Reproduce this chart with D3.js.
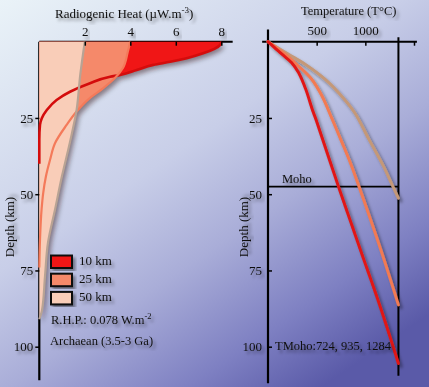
<!DOCTYPE html>
<html><head><meta charset="utf-8">
<script src="https://cdn.jsdelivr.net/npm/d3@7"></script>
<style>
html,body{margin:0;padding:0;overflow:hidden;background:#fff;}
svg{display:block;}
text{font-family:"Liberation Serif","Times New Roman",serif;fill:#111;}
</style>
</head><body>
<svg id="c" width="429" height="387"></svg>
<script>
// ---------- data ----------
const heatTicks = [2, 4, 6, 8];
const tempTicks = [500, 1000, 1500];
const tempTickLabels = ["500", "1000", ""];
const depthTicks = [25, 50, 75, 100];
const seriesNames = ["10 km", "25 km", "50 km"];

// Radiogenic heat profiles (depth km, heat µW/m3)
const heat10Depth = [0, 1.1, 3.8, 5.4, 6.6, 7.6, 9.3, 10.9, 11.5, 13.6, 16.4, 19.1, 22.4, 25.1, 27.3, 32, 40];
const heat10Value = [8.0, 7.94, 7.2, 6.48, 5.75, 5.01, 4.28, 3.55, 3.11, 2.23, 1.35, 0.76, 0.33, 0.11, 0.03, 0.0, 0.0];
const heat25Depth = [0, 3.3, 8.7, 12, 15.3, 18.5, 22.9, 27.3, 33.3, 38.8, 44.2, 49.7, 55, 65, 74];
const heat25Value = [4.0, 3.89, 3.67, 3.31, 2.8, 2.22, 1.64, 1.2, 0.69, 0.47, 0.29, 0.17, 0.1, 0.03, 0.0];
const heat50Depth = [0, 10.9, 22.4, 33.2, 44.3, 55.1, 66, 77, 88, 91];
const heat50Value = [2.0, 1.8, 1.64, 1.34, 0.99, 0.69, 0.38, 0.25, 0.12, 0.0];

// Geotherms (depth km, temperature °C)
const geo10Depth = [0, 4.1, 6.9, 10.2, 15.6, 22.2, 25.7, 47.5, 68.3, 86.9, 105.5];
const geo10Temp  = [0, 143, 243, 315, 388, 455, 495, 724, 950, 1153, 1340];
const geo25Depth = [0, 4.1, 8, 12.3, 17.8, 25, 33, 40, 47.5, 68.3, 86.3];
const geo25Temp  = [0, 177, 313, 449, 555, 654, 760, 850, 935, 1160, 1340];
const geo50Depth = [0, 4.1, 7.4, 12.3, 17.8, 23.3, 32.2, 40.4, 47.5, 51.3];
const geo50Temp  = [0, 211, 381, 585, 755, 891, 1040, 1180, 1284, 1340];

const mohoDepth = 47.5;
const mantleT = 1340;
const rhpText = "R.H.P.: 0.078 W.m";
const ageText = "Archaean (3.5-3 Ga)";
const tmohoText = "TMoho:724, 935, 1284";

// ---------- styles ----------
const fillColors = ["#f01212", "#f5896b", "#f9cdb8"];
const heatLine = ["#d40c0c", "#f47a5a", "#b8a394"];
const geoLine = ["#e01818", "#f27a52", "#c49878"];

// ---------- setup ----------
const svg = d3.select("#c");
const defs = svg.append("defs");
const bg = defs.append("linearGradient").attr("id", "bg")
  .attr("x1", 0).attr("y1", 0).attr("x2", 0.75).attr("y2", 1);
[[0, "#eaf3f8"], [0.45, "#c8cee8"], [0.65, "#a9add8"], [0.85, "#7e80c2"], [1, "#5a5aa8"]]
  .forEach(([o, c]) => bg.append("stop").attr("offset", o).attr("stop-color", c));
const sh = defs.append("filter").attr("id", "sh").attr("x", "-20%").attr("y", "-20%").attr("width", "140%").attr("height", "140%");
sh.append("feDropShadow").attr("dx", 2.5).attr("dy", 3).attr("stdDeviation", 1.8)
  .attr("flood-color", "#000").attr("flood-opacity", 0.4);
const sh2 = defs.append("filter").attr("id", "sh2").attr("x", "-20%").attr("y", "-20%").attr("width", "140%").attr("height", "140%");
sh2.append("feDropShadow").attr("dx", 3).attr("dy", 4).attr("stdDeviation", 2.5)
  .attr("flood-color", "#200000").attr("flood-opacity", 0.45);

svg.append("rect").attr("width", 429).attr("height", 387).attr("fill", "url(#bg)");

const yD = d3.scaleLinear().domain([0, 100]).range([41.7, 346.7]);
const xL = d3.scaleLinear().domain([0, 8]).range([39.3, 221.3]);
const xR = d3.scaleLinear().domain([0, 1500]).range([268, 414]);

// ---------- left panel: radiogenic heat ----------
const heatSeries = [
  heat10Depth.map((d, i) => ({d, v: heat10Value[i]})),
  heat25Depth.map((d, i) => ({d, v: heat25Value[i]})),
  heat50Depth.map((d, i) => ({d, v: heat50Value[i]}))
];
const area = d3.area().curve(d3.curveMonotoneY)
  .y(p => yD(p.d)).x0(xL(0)).x1(p => xL(p.v));
const lineH = d3.line().curve(d3.curveMonotoneY)
  .y(p => yD(p.d)).x(p => xL(p.v));

const gL = svg.append("g");
gL.append("line").attr("x1", xL(0)).attr("x2", xL(8.5)).attr("y1", yD(0)).attr("y2", yD(0))
  .attr("stroke", "#000").attr("stroke-width", 2);
gL.append("line").attr("x1", xL(0)).attr("x2", xL(0)).attr("y1", yD(0)).attr("y2", yD(111))
  .attr("stroke", "#000").attr("stroke-width", 2.2);

const fills = gL.append("g").attr("filter", "url(#sh2)");
heatSeries.forEach((s, i) => {
  fills.append("path").attr("d", area(s)).attr("fill", fillColors[i]);
});
heatSeries.forEach((s, i) => {
  gL.append("path").attr("d", lineH(s)).attr("fill", "none")
    .attr("stroke", heatLine[i]).attr("stroke-width", i === 0 ? 2.6 : 2.2);
});

const axL = gL.append("g").attr("transform", `translate(0,${yD(0)})`)
  .call(d3.axisTop(xL).tickValues(heatTicks).tickSizeInner(-4).tickSizeOuter(0).tickPadding(6));
axL.select(".domain").remove();
axL.selectAll("line").attr("stroke", "#000").attr("stroke-width", 1.5);
axL.selectAll("text").attr("font-size", 13).attr("font-family", "Liberation Serif").attr("fill", "#111").attr("filter", "url(#sh)");

const ayL = gL.append("g").attr("transform", `translate(${xL(0)},0)`)
  .call(d3.axisLeft(yD).tickValues(depthTicks).tickSize(4).tickPadding(2));
ayL.select(".domain").remove();
ayL.selectAll("line").attr("stroke", "#000").attr("stroke-width", 1.5);
ayL.selectAll("text").attr("font-size", 13).attr("font-family", "Liberation Serif").attr("fill", "#111").attr("filter", "url(#sh)");

const t1 = svg.append("text").attr("x", 55).attr("y", 18).attr("font-size", 13).attr("filter", "url(#sh)");
t1.append("tspan").text("Radiogenic Heat (\u00b5W.m");
t1.append("tspan").attr("dy", -5).attr("font-size", 9).text("-3");
t1.append("tspan").attr("dy", 5).text(")");

svg.append("text").attr("transform", "translate(14,227) rotate(-90)").attr("text-anchor", "middle")
  .attr("font-size", 13).attr("filter", "url(#sh)").text("Depth (km)");

const lg = svg.append("g");
seriesNames.forEach((n, i) => {
  const y0 = 255.5 + i * 18.2;
  lg.append("rect").attr("x", 51).attr("y", y0).attr("width", 21).attr("height", 12.5)
    .attr("fill", fillColors[i]).attr("stroke", "#111").attr("stroke-width", 2).attr("filter", "url(#sh)");
  lg.append("text").attr("x", 79).attr("y", y0 + 9.5).attr("font-size", 13).attr("filter", "url(#sh)").text(n);
});
const t2 = svg.append("text").attr("x", 51).attr("y", 324).attr("font-size", 12.5).attr("filter", "url(#sh)");
t2.append("tspan").text(rhpText);
t2.append("tspan").attr("dy", -5).attr("font-size", 8.5).text("-2");
svg.append("text").attr("x", 50).attr("y", 344.5).attr("font-size", 12.5).attr("filter", "url(#sh)").text(ageText);

// ---------- right panel: geotherms ----------
const geoSeries = [
  geo10Depth.map((d, i) => ({d, t: geo10Temp[i]})),
  geo25Depth.map((d, i) => ({d, t: geo25Temp[i]})),
  geo50Depth.map((d, i) => ({d, t: geo50Temp[i]}))
];
const lineG = d3.line().curve(d3.curveCatmullRom.alpha(0.5)).y(p => yD(p.d)).x(p => xR(p.t));
const gR = svg.append("g");
gR.append("line").attr("x1", xR(-60)).attr("x2", xR(1530)).attr("y1", yD(0)).attr("y2", yD(0))
  .attr("stroke", "#000").attr("stroke-width", 2);
gR.append("line").attr("x1", xR(0)).attr("x2", xR(0)).attr("y1", yD(-4)).attr("y2", yD(112))
  .attr("stroke", "#000").attr("stroke-width", 2.2);
gR.append("line").attr("x1", xR(mantleT)).attr("x2", xR(mantleT)).attr("y1", yD(-1.5)).attr("y2", yD(109.5))
  .attr("stroke", "#000").attr("stroke-width", 2);
gR.append("line").attr("x1", xR(0)).attr("x2", xR(mantleT)).attr("y1", yD(mohoDepth)).attr("y2", yD(mohoDepth))
  .attr("stroke", "#000").attr("stroke-width", 1.6);

const geoG = gR.append("g").attr("filter", "url(#sh)");
[2, 1, 0].forEach(i => {
  geoG.append("path").attr("d", lineG(geoSeries[i])).attr("fill", "none")
    .attr("stroke", geoLine[i]).attr("stroke-width", 3).attr("stroke-linecap", "round");
});

const axR = gR.append("g").attr("transform", `translate(0,${yD(0)})`)
  .call(d3.axisTop(xR).tickValues(tempTicks).tickFormat((d, i) => tempTickLabels[i])
    .tickSizeInner(-4).tickSizeOuter(0).tickPadding(7));
axR.select(".domain").remove();
axR.selectAll("line").attr("stroke", "#000").attr("stroke-width", 1.5);
axR.selectAll("text").attr("font-size", 13).attr("font-family", "Liberation Serif").attr("fill", "#111").attr("filter", "url(#sh)");

const ayR = gR.append("g").attr("transform", `translate(${xR(0)},0)`)
  .call(d3.axisLeft(yD).tickValues(depthTicks).tickSizeInner(-4).tickSizeOuter(0).tickPadding(6));
ayR.select(".domain").remove();
ayR.selectAll("line").attr("stroke", "#000").attr("stroke-width", 1.5);
ayR.selectAll("text").attr("font-size", 13).attr("font-family", "Liberation Serif").attr("fill", "#111").attr("filter", "url(#sh)");

svg.append("text").attr("x", 301).attr("y", 15).attr("font-size", 12.5).attr("filter", "url(#sh)").text("Temperature (T\u00b0C)");
svg.append("text").attr("transform", "translate(248,227) rotate(-90)").attr("text-anchor", "middle")
  .attr("font-size", 13).attr("filter", "url(#sh)").text("Depth (km)");
svg.append("text").attr("x", 282).attr("y", 183).attr("font-size", 12.5).attr("filter", "url(#sh)").text("Moho");
svg.append("text").attr("x", 275).attr("y", 349.5).attr("font-size", 12.5).attr("filter", "url(#sh)").text(tmohoText);
</script>
</body></html>
